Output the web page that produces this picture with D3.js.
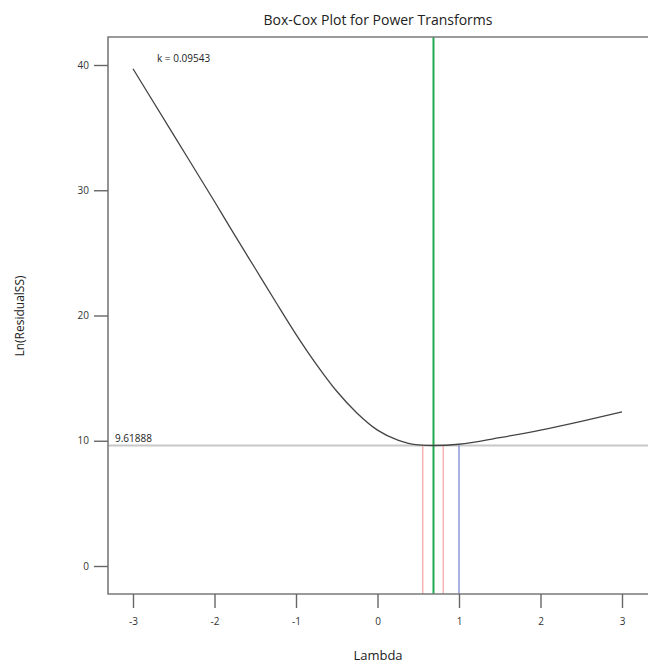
<!DOCTYPE html>
<html>
<head>
<meta charset="utf-8">
<script src="https://cdn.jsdelivr.net/npm/d3@7"></script>
<style>
  body { margin: 0; background: #fff; }
  svg { display: block; font-family: "Open Sans", "Noto Sans", sans-serif; }
</style>
</head>
<body>
<svg id="chart"></svg>
<script>
/*Data*/
const lambdas = [-3, -2.5, -2, -1.75, -1.5, -1.25, -1, -0.75, -0.5, -0.25, 0, 0.25, 0.5, 0.69, 1, 1.5, 2, 2.5, 3];
const lnRSS   = [39.7, 34.4, 29.1, 26.4, 23.75, 21.1, 18.5, 16.1, 13.95, 12.2, 10.85, 10.05, 9.67, 9.62, 9.72, 10.25, 10.85, 11.55, 12.3];
const xTicks = [-3, -2, -1, 0, 1, 2, 3];
const yTicks = [0, 10, 20, 30, 40];
const minRSS = 9.61888;
const bestLambda = 0.687;
const ciLambdas = [0.556, 0.806];
const refLambda = 1;
const kLabel = "k = 0.09543";

const chartWidth = 648, chartHeight = 667;
const frameLeft = 108, frameTop = 37, frameBottom = 594;

const svg = d3.select("#chart").attr("width", chartWidth).attr("height", chartHeight);

/*scales: 0 at y=566, 40 at y=65; -3 at x=133, 3 at x=622*/
const x = d3.scaleLinear().domain([-3, 3]).range([133, 622]);
const y = d3.scaleLinear().domain([0, 40]).range([566, 65]);

/*horizontal line at minimum*/
svg.append("line")
  .attr("x1", frameLeft).attr("x2", chartWidth)
  .attr("y1", y(minRSS)).attr("y2", y(minRSS))
  .attr("stroke", "#c8c8c8").attr("stroke-width", 2);

/*confidence + reference verticals*/
svg.selectAll(".ci").data(ciLambdas).enter().append("line")
  .attr("x1", d => x(d)).attr("x2", d => x(d))
  .attr("y1", y(minRSS)).attr("y2", frameBottom)
  .attr("stroke", "#f5a3a3").attr("stroke-width", 1.2);

svg.append("line")
  .attr("x1", x(refLambda)).attr("x2", x(refLambda))
  .attr("y1", y(minRSS)).attr("y2", frameBottom)
  .attr("stroke", "#6f7fcf").attr("stroke-width", 1.2);

svg.append("line")
  .attr("x1", x(bestLambda)).attr("x2", x(bestLambda))
  .attr("y1", frameTop).attr("y2", frameBottom)
  .attr("stroke", "#1faa4f").attr("stroke-width", 2);

/*curve*/
const line = d3.line()
  .x((d, i) => x(lambdas[i]))
  .y(d => y(d))
  .curve(d3.curveMonotoneX);

svg.append("path")
  .datum(lnRSS)
  .attr("d", line)
  .attr("fill", "none")
  .attr("stroke", "#444")
  .attr("stroke-width", 1.3);

/*frame*/
svg.append("path")
  .attr("d", `M${chartWidth},${frameTop}H${frameLeft}V${frameBottom}H${chartWidth}`)
  .attr("fill", "none").attr("stroke", "#7a7a7a").attr("stroke-width", 1.6);

/*axes - plain hyphen for negatives like the original*/
const fmt = d => String(d);
const yAxis = d3.axisLeft(y).tickValues(yTicks).tickFormat(fmt).tickSize(14).tickPadding(5);
const gy = svg.append("g").attr("transform", `translate(${frameLeft},0)`).call(yAxis);
gy.select(".domain").remove();

const xAxis = d3.axisBottom(x).tickValues(xTicks).tickFormat(fmt).tickSize(14).tickPadding(10);
const gx = svg.append("g").attr("transform", `translate(0,${frameBottom})`).call(xAxis);
gx.select(".domain").remove();

svg.selectAll(".tick line").attr("stroke", "#666").attr("stroke-width", 1.4);
svg.selectAll(".tick text").attr("fill", "#333").style("font-size", "10px")
  .style("font-family", "'Open Sans', sans-serif");

/*labels*/
svg.append("text").text("Box-Cox Plot for Power Transforms")
  .attr("x", 378).attr("y", 25).attr("text-anchor", "middle")
  .attr("fill", "#222").style("font-size", "14px");

svg.append("text").text("Lambda")
  .attr("x", 378).attr("y", 660).attr("text-anchor", "middle")
  .attr("fill", "#222").style("font-size", "13px");

svg.append("text").text("Ln(ResidualSS)")
  .attr("transform", "translate(24,316) rotate(-90)")
  .attr("text-anchor", "middle")
  .attr("fill", "#222").style("font-size", "12px");

svg.append("text").text(kLabel)
  .attr("x", 157).attr("y", 62)
  .attr("fill", "#222").style("font-size", "10px");

svg.append("text").text(String(minRSS))
  .attr("x", 115).attr("y", y(minRSS) - 4)
  .attr("fill", "#222").style("font-size", "10px");
</script>
</body>
</html>
